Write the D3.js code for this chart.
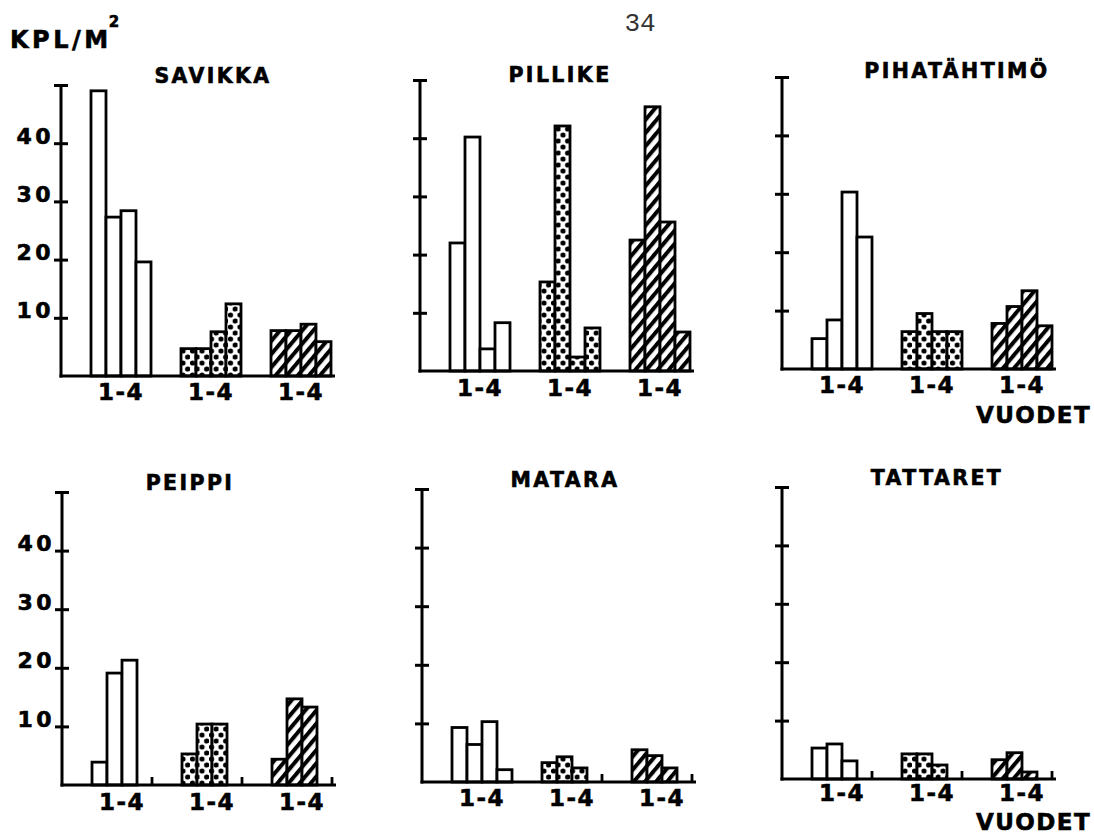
<!DOCTYPE html>
<html>
<head>
<meta charset="utf-8">
<script src="https://cdn.jsdelivr.net/npm/d3@7"></script>
<style>
  body { margin: 0; background: #fff; }
  svg { display: block; }
</style>
</head>
<body>
<svg id="chart" width="1094" height="838"></svg>
<script>
// Species shown in the six small panels
const species = ["SAVIKKA", "PILLIKE", "PIHATÄHTIMÖ", "PEIPPI", "MATARA", "TATTARET"];
// Three treatment groups, each covering years 1-4
const groupLabels = ["1-4", "1-4", "1-4"];
const years = ["1", "2", "3", "4"];
const yTickValues = [10, 20, 30, 40, 50];
const yTickLabels = ["10", "20", "30", "40", ""];
const yUnit = "KPL/M";
const xUnit = "VUODET";
const pageNumber = "34";

// Seedlings per m², [group][year]; null = year not recorded
const savikka     = [[49.0, 27.3, 28.4, 19.6], [4.7, 4.7, 7.6, 12.4], [7.8, 7.8, 8.9, 5.9]];
const pillike     = [[22.0, 40.2, 3.8, 8.3],   [15.3, 42.1, 2.4, 7.4], [22.5, 45.4, 25.6, 6.7]];
const pihatahtimo = [[5.2, 8.4, 30.3, 22.6],   [6.4, 9.5, 6.4, 6.4],   [7.8, 10.7, 13.4, 7.4]];
const peippi      = [[3.9, 19.1, 21.3, null],  [5.3, 10.4, 10.4, null], [4.4, 14.7, 13.3, null]];
const matara      = [[9.3, 6.4, 10.3, 2.1],    [3.3, 4.3, 2.4, null],  [5.5, 4.5, 2.4, null]];
const tattaret    = [[5.3, 6.0, 3.1, null],    [4.3, 4.3, 2.4, null],  [3.3, 4.5, 1.2, null]];
const panelValues = [savikka, pillike, pihatahtimo, peippi, matara, tattaret];

// Panel placement: axis origin, top of the value axis, title anchor, group-label offset
const panelLayout = [
  { x0: 61,  y0: 376, yTop: 85,  tickLabels: true,  tx: 213, ty: 83,  ly: 24 },
  { x0: 420, y0: 371, yTop: 80,  tickLabels: false, tx: 560, ty: 82,  ly: 25 },
  { x0: 782, y0: 369, yTop: 77,  tickLabels: false, tx: 957, ty: 78,  ly: 24 },
  { x0: 62,  y0: 785, yTop: 492, tickLabels: true,  tx: 190, ty: 490, ly: 25 },
  { x0: 422, y0: 782, yTop: 489, tickLabels: false, tx: 565, ty: 487, ly: 24 },
  { x0: 782, y0: 779, yTop: 487, tickLabels: false, tx: 937, ty: 485, ly: 22 }
];

const FONT = "'DejaVu Sans', 'Liberation Sans', sans-serif";
const svg = d3.select("#chart");

// Heavy lettering used throughout the figure
function heavy(sel, size, spacing) {
  return sel.attr("font-family", FONT).attr("font-weight", "bold")
    .attr("font-size", size).attr("letter-spacing", spacing)
    .attr("fill", "#000").attr("stroke", "#000").attr("stroke-width", 0.6);
}

// Fill patterns: open, dotted, hatched
const defs = svg.append("defs");
const dots = defs.append("pattern")
  .attr("id", "dots").attr("patternUnits", "userSpaceOnUse")
  .attr("width", 9.5).attr("height", 12);
dots.append("rect").attr("width", 9.5).attr("height", 12).attr("fill", "#fff");
dots.append("circle").attr("cx", 2.5).attr("cy", 3).attr("r", 2.6).attr("fill", "#000");
dots.append("circle").attr("cx", 7.2).attr("cy", 9).attr("r", 2.6).attr("fill", "#000");

const hatch = defs.append("pattern")
  .attr("id", "hatch").attr("patternUnits", "userSpaceOnUse")
  .attr("width", 8.5).attr("height", 10)
  .attr("patternTransform", "rotate(40)");
hatch.append("rect").attr("width", 8.5).attr("height", 10).attr("fill", "#fff");
hatch.append("line").attr("x1", 2).attr("x2", 2).attr("y1", -1).attr("y2", 11)
  .attr("stroke", "#000").attr("stroke-width", 4);

const groupFills = ["#fff", "url(#dots)", "url(#hatch)"];

species.forEach((name, i) => {
  const L = panelLayout[i];
  const values = panelValues[i];
  const g = svg.append("g");

  const y = d3.scaleLinear().domain([0, 50]).range([L.y0, L.yTop]);
  const xGroup = d3.scaleBand().domain(d3.range(groupLabels.length))
    .range([L.x0, L.x0 + 300]).paddingInner(1 / 3).paddingOuter(1 / 3);
  const xYear = d3.scaleBand().domain(years).range([0, xGroup.bandwidth()]);

  // Bars
  values.forEach((grp, gi) => {
    grp.forEach((v, yi) => {
      const left = xGroup(gi) + xYear(years[yi]);
      if (v === null) {
        // unrecorded year: short stub at the end of its slot
        g.append("line")
          .attr("x1", left + xYear.bandwidth()).attr("x2", left + xYear.bandwidth())
          .attr("y1", y(0)).attr("y2", y(0) - 8)
          .attr("stroke", "#000").attr("stroke-width", 2.8);
        return;
      }
      g.append("rect")
        .attr("x", left).attr("y", y(v))
        .attr("width", xYear.bandwidth()).attr("height", y(0) - y(v))
        .attr("fill", groupFills[gi])
        .attr("stroke", "#000").attr("stroke-width", 2.8);
    });
  });

  // Value axis: ticks cross the line, capped at the top
  const axL = d3.axisLeft(y).tickValues(yTickValues).tickSize(7)
    .tickFormat((d, k) => L.tickLabels ? yTickLabels[k] : "");
  const axR = d3.axisRight(y).tickValues(yTickValues).tickSize(7).tickFormat("");
  [axL, axR].forEach(ax => {
    const a = g.append("g").attr("transform", `translate(${L.x0},0)`).call(ax);
    a.select(".domain").remove();
    a.selectAll(".tick line").attr("stroke", "#000").attr("stroke-width", 3);
  });
  heavy(g.selectAll(".tick text").attr("x", -7).attr("dy", 0), 22, 3.5);

  g.append("line")
    .attr("x1", L.x0).attr("x2", L.x0).attr("y1", y(50)).attr("y2", y(0) + 1.5)
    .attr("stroke", "#000").attr("stroke-width", 3);

  // Baseline and group labels
  const xEnd = xGroup(groupLabels.length - 1) + xGroup.bandwidth() + 4;
  g.append("line")
    .attr("x1", L.x0 - 1.5).attr("x2", xEnd).attr("y1", y(0)).attr("y2", y(0))
    .attr("stroke", "#000").attr("stroke-width", 3);

  const axB = d3.axisBottom(xGroup).tickSize(0).tickFormat(k => groupLabels[k]);
  const b = g.append("g").attr("transform", `translate(0,${L.y0})`).call(axB);
  b.select(".domain").remove();
  heavy(b.selectAll(".tick text").attr("y", L.ly).attr("dy", 0), 23, 1.5);

  // Panel title
  heavy(svg.append("text"), 20.5, 2.4)
    .attr("x", L.tx).attr("y", L.ty)
    .attr("text-anchor", "middle")
    .text(name);
});

// Shared annotations
const unit = heavy(svg.append("text"), 24, 3.5).attr("x", 10).attr("y", 48);
unit.append("tspan").text(yUnit);
unit.append("tspan").attr("dx", -3).attr("dy", -21).attr("font-size", 15).text("2");

[423, 830].forEach(yy => {
  heavy(svg.append("text"), 23, 1.4)
    .attr("x", 1091).attr("y", yy).attr("text-anchor", "end")
    .text(xUnit);
});

svg.append("text")
  .attr("x", 640).attr("y", 31).attr("text-anchor", "middle")
  .attr("font-family", "'Liberation Mono', 'DejaVu Sans Mono', monospace")
  .attr("font-size", 26).attr("fill", "#333")
  .text(pageNumber);
</script>
</body>
</html>
